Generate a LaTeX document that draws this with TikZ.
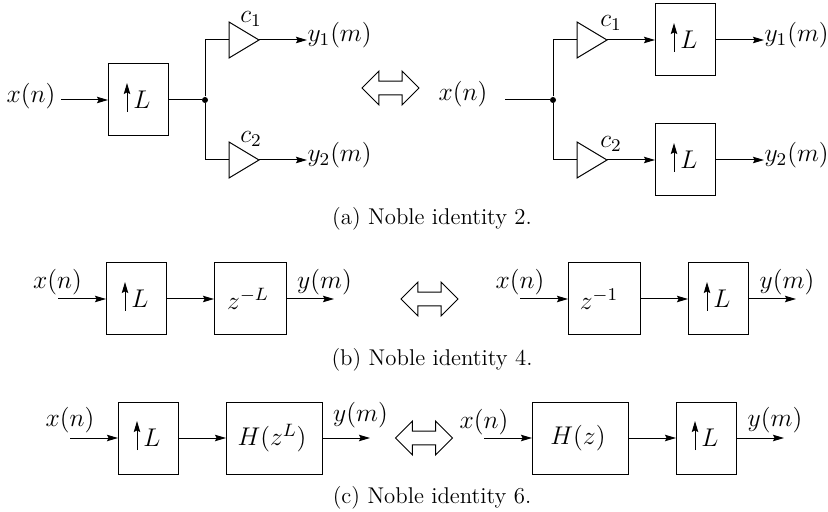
\RequirePackage{fix-cm}
\documentclass[tikz,border=0pt]{standalone}
\usetikzlibrary{shapes.geometric, shapes.arrows, arrows.meta, positioning}
\newcommand{\upL}{\hspace{4pt}$L$}
\begin{document}
\begin{tikzpicture}[
            x=0.5pt, y=-0.5pt, line width=0.5pt, font=\fontsize{12.8}{15}\selectfont,
            box/.style={draw, minimum width=30pt, minimum height=36pt, inner sep=0pt, outer sep=0pt, align=center},
            widebox/.style={box, minimum width=36pt},
            hbox/.style={box, minimum width=48pt},
            upbox/.style={box, path picture={\draw[arrow] ([xshift=-5.5pt,yshift=-6pt]path picture bounding box.center) -- ++(0,14.5pt);}},
            gain/.style={draw, isosceles triangle, isosceles triangle stretches, minimum width=18pt, minimum height=15pt, inner sep=0pt, outer sep=0pt, anchor=lower side},
            arrow/.style={-{Stealth[length=5.5pt,width=3.2pt,inset=0.8pt]}},
            equiv/.style={draw, double arrow, double arrow head extend=5pt, minimum width=16.5pt, minimum height=28.5pt, inner sep=3.2pt, line width=0.5pt},
            dot/.style={circle, fill, minimum size=3pt, inner sep=0pt},
            label/.style={inner sep=0pt},
            caption/.style={inner sep=0pt, font=\fontsize{11.4}{14}\selectfont}
        ]
            \useasboundingbox (0,0) rectangle (828,512);

            % Noble identity 2, left
            \node[label] (xa) at (31,96) {$x(n)$};
            \coordinate (ina) at (61,100);
            \node[upbox] (upa) at (138,100) {\upL};
            \node[dot] (joina) at (205,100) {};
            \node[gain] (gaina) at (229,40) {};
            \node[gain] (gainb) at (229,160) {};
            \node[label] (ca) at (251,19) {$c_1$};
            \node[label] (cb) at (251,139) {$c_2$};
            \node[label, anchor=west] (ya) at (307,35) {$y_1(m)$};
            \node[label, anchor=west] (yb) at (307,155) {$y_2(m)$};
            \draw[arrow] (ina) -- (upa);
            \draw (upa) -- (joina);
            \draw (joina) |- (gaina.lower side);
            \draw (joina) |- (gainb.lower side);
            \draw[arrow] (gaina.apex) -- (gaina.apex -| ya.west);
            \draw[arrow] (gainb.apex) -- (gainb.apex -| yb.west);

            \node[equiv] (eqa) at (390.5,88) {};

            % Noble identity 2, right
            \node[label] (xb) at (463,94) {$x(n)$};
            \coordinate (inb) at (505,100);
            \node[dot] (joinb) at (553,100) {};
            \node[gain] (gainc) at (577,40) {};
            \node[gain] (gaind) at (577,160) {};
            \node[label] (cc) at (611,23) {$c_1$};
            \node[label] (cd) at (611,144) {$c_2$};
            \node[upbox] (upb) at (685,40) {\upL};
            \node[upbox, below=24pt of upb] (upc) {\upL};
            \node[label, anchor=west] (yc) at (764,35) {$y_1(m)$};
            \node[label, anchor=west] (yd) at (764,155) {$y_2(m)$};
            \draw (inb) -- (joinb);
            \draw (joinb) |- (gainc.lower side);
            \draw (joinb) |- (gaind.lower side);
            \draw[arrow] (gainc.apex) -- (upb);
            \draw[arrow] (gaind.apex) -- (upc);
            \draw[arrow] (upb) -- (upb -| yc.west);
            \draw[arrow] (upc) -- (upc -| yd.west);

            \node[caption] (capa) at (432,219) {(a) Noble identity 2.};

            % Noble identity 4
            \node[label] (xc) at (57.5,282) {$x(n)$};
            \coordinate (inc) at (58,299);
            \node[upbox] (upd) at (136,299) {\upL};
            \node[widebox, right=24pt of upd] (dela) {\hspace{-2pt}$z^{-L}$};
            \coordinate[right=24pt of dela] (outa);
            \node[label] (ye) at (324.5,282) {$y(m)$};
            \draw[arrow] (inc) -- (upd);
            \draw[arrow] (upd) -- (dela);
            \draw[arrow] (dela) -- (outa);

            \node[equiv] (eqb) at (429.5,299) {};

            \node[label] (xd) at (520,282) {$x(n)$};
            \coordinate (ind) at (520,299);
            \node[widebox] (delb) at (604,299) {\hspace{-5pt}$z^{-1}$};
            \node[upbox, right=24pt of delb] (upe) {\upL};
            \coordinate[right=24pt of upe] (outb);
            \node[label] (yf) at (787,282) {$y(m)$};
            \draw[arrow] (ind) -- (delb);
            \draw[arrow] (delb) -- (upe);
            \draw[arrow] (upe) -- (outb);

            \node[caption] (capb) at (432,360) {(b) Noble identity 4.};

            % Noble identity 6
            \node[label] (xe) at (70,420) {$x(n)$};
            \coordinate (ine) at (70,438);
            \node[upbox] (upf) at (148,438) {\upL};
            \node[hbox, right=24pt of upf] (filta) {\hspace{-2pt}$H(z^L)$};
            \coordinate[right=24pt of filta] (outc);
            \node[label] (yg) at (360.5,415) {$y(m)$};
            \draw[arrow] (ine) -- (upf);
            \draw[arrow] (upf) -- (filta);
            \draw[arrow] (filta) -- (outc);

            \node[equiv] (eqc) at (424,438) {};

            \node[label] (xf) at (484,422) {$x(n)$};
            \coordinate (inf) at (484,438);
            \node[hbox] (filtb) at (580,438) {\hspace{-2pt}$H(z)$};
            \node[upbox, right=24pt of filtb] (upg) {\upL};
            \coordinate[right=24pt of upg] (outd);
            \node[label] (yh) at (775,420) {$y(m)$};
            \draw[arrow] (inf) -- (filtb);
            \draw[arrow] (filtb) -- (upg);
            \draw[arrow] (upg) -- (outd);

            \node[caption] (capc) at (432,498) {(c) Noble identity 6.};
        \end{tikzpicture}
\end{document}
